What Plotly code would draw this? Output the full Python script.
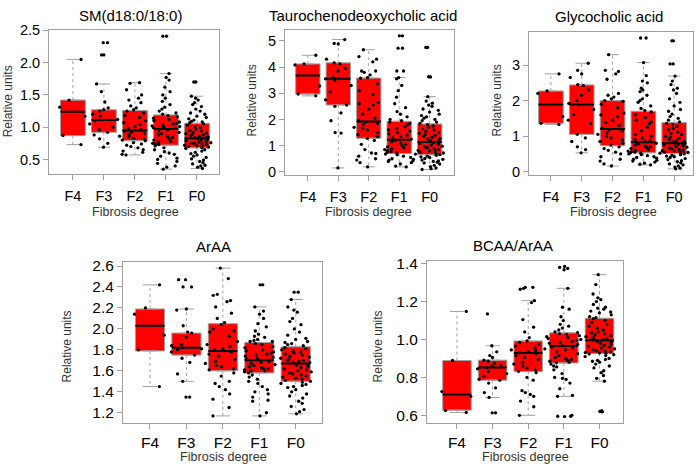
import plotly.graph_objects as go

categories = ['F4', 'F3', 'F2', 'F1', 'F0']
positions = [1, 2, 3, 4, 5]

# ---------------- SM(d18:0/18:0) ----------------
sm_lw = [0.73, 0.69, 0.57, 0.35, 0.36]
sm_q1 = [0.87, 0.92, 0.79, 0.72, 0.68]
sm_med = [1.24, 1.11, 0.95, 0.97, 0.83]
sm_q3 = [1.42, 1.27, 1.26, 1.19, 1.06]
sm_uw = [2.05, 1.67, 1.69, 1.83, 1.48]
sm_F4 = [2.05, 1.42, 1.31, 1.17, 0.87, 0.73]
sm_F3 = [2.31, 2.31, 2.12, 2.12, 1.67, 1.55, 1.39, 1.30, 1.27, 1.25, 1.20, 1.17, 1.12,
         1.10, 1.05, 1.00, 0.96, 0.92, 0.88, 0.82, 0.75, 0.69]
sm_F2 = [1.69, 1.68, 1.58, 1.50, 1.45, 1.42, 1.38, 1.33, 1.30, 1.27,
         1.25, 1.22, 1.18, 1.15, 1.10, 1.07, 1.04, 1.01, 0.98, 0.96,
         0.94, 0.92, 0.90, 0.88, 0.86, 0.85, 0.83, 0.82, 0.80, 0.79,
         0.76, 0.74, 0.72, 0.70, 0.68, 0.65, 0.63, 0.61, 0.58, 0.57]
sm_F1 = [2.41, 2.41,
         1.83, 1.77, 1.73, 1.62, 1.55, 1.50, 1.45, 1.40, 1.35, 1.31, 1.28, 1.25, 1.22, 1.20,
         1.18, 1.16, 1.14, 1.12, 1.10, 1.08, 1.06, 1.05, 1.03, 1.02, 1.01, 1.00, 0.99, 0.98,
         0.96, 0.94, 0.92, 0.90, 0.88, 0.86, 0.84, 0.82, 0.80, 0.78, 0.77, 0.75, 0.74, 0.73,
         0.71, 0.68, 0.65, 0.62, 0.60, 0.58, 0.55, 0.52, 0.50, 0.47, 0.44, 0.40, 0.38, 0.35]
sm_F0 = [1.70, 1.70,
         1.48, 1.45, 1.42, 1.38, 1.35, 1.32, 1.28, 1.25, 1.22, 1.20, 1.17, 1.15, 1.13, 1.11, 1.09, 1.08, 1.07,
         1.05, 1.03, 1.01, 0.99, 0.97, 0.95, 0.94, 0.92, 0.91, 0.90, 0.89, 0.88, 0.87, 0.86, 0.85, 0.84, 0.84,
         0.82, 0.81, 0.80, 0.79, 0.78, 0.77, 0.76, 0.75, 0.75, 0.74, 0.73, 0.72, 0.71, 0.70, 0.70, 0.69, 0.68,
         0.67, 0.65, 0.63, 0.61, 0.59, 0.57, 0.55, 0.53, 0.51, 0.49, 0.47, 0.45, 0.43, 0.41, 0.40, 0.38, 0.36]
sm_ticks = [0.5, 1.0, 1.5, 2.0, 2.5]

# ---------------- Taurochenodeoxycholic acid ----------------
tc_lw = [2.90, 0.15, 0.19, 0.19, 0.09]
tc_q1 = [2.97, 2.55, 1.28, 0.70, 0.65]
tc_med = [3.68, 3.55, 1.92, 1.23, 1.14]
tc_q3 = [4.12, 4.16, 3.58, 1.93, 1.83]
tc_uw = [4.45, 5.05, 4.66, 3.60, 2.87]
tc_F4 = [4.45, 4.12, 4.08, 3.28, 2.97, 2.90]
tc_F3 = [5.05, 4.90, 4.88, 4.30, 4.16, 4.12, 3.95, 3.85, 3.60, 3.55, 3.50, 3.30, 3.05,
         2.75, 2.55, 2.50, 2.25, 1.95, 1.50, 1.48, 0.15]
tc_F2 = [4.66, 4.40, 4.30, 4.20, 3.85, 3.85, 3.80, 3.70, 3.60, 3.58,
         3.35, 3.10, 2.95, 2.65, 2.60, 2.55, 2.40, 2.20, 2.05, 1.95,
         1.90, 1.85, 1.80, 1.70, 1.65, 1.60, 1.50, 1.42, 1.35, 1.28,
         1.20, 1.05, 0.85, 0.72, 0.70, 0.60, 0.50, 0.45, 0.35, 0.19]
tc_F1 = [5.19, 5.19, 4.72, 4.72, 3.85, 3.85,
         3.60, 3.55, 3.30, 3.10, 2.85, 2.60, 2.45, 2.30, 2.20, 2.10, 2.00, 1.95,
         1.90, 1.85, 1.80, 1.72, 1.65, 1.60, 1.55, 1.50, 1.45, 1.40, 1.35, 1.30, 1.25,
         1.20, 1.15, 1.10, 1.05, 1.00, 0.95, 0.92, 0.88, 0.85, 0.80, 0.77, 0.74, 0.71,
         0.68, 0.65, 0.60, 0.55, 0.50, 0.48, 0.45, 0.42, 0.40, 0.35, 0.30, 0.22, 0.19]
tc_F0 = [4.75, 4.75, 3.63, 3.62,
         2.87, 2.70, 2.62, 2.55, 2.50, 2.40, 2.35, 2.28, 2.20, 2.15, 2.10, 2.05, 2.00, 1.95, 1.90, 1.85,
         1.80, 1.75, 1.70, 1.65, 1.60, 1.55, 1.50, 1.47, 1.43, 1.40, 1.36, 1.32, 1.28, 1.25, 1.21, 1.18, 1.15,
         1.12, 1.08, 1.05, 1.02, 0.98, 0.95, 0.92, 0.88, 0.85, 0.82, 0.80, 0.77, 0.75, 0.72, 0.70, 0.68, 0.66,
         0.63, 0.60, 0.57, 0.54, 0.51, 0.48, 0.45, 0.42, 0.40, 0.37, 0.34, 0.30, 0.25, 0.20, 0.15, 0.12, 0.09]
tc_ticks = [0, 1, 2, 3, 4, 5]

# ---------------- Glycocholic acid ----------------
gc_lw = [1.33, 0.53, 0.16, 0.19, 0.08]
gc_q1 = [1.36, 1.05, 0.73, 0.53, 0.51]
gc_med = [1.89, 1.89, 1.20, 0.83, 0.80]
gc_q3 = [2.27, 2.44, 2.00, 1.70, 1.38]
gc_uw = [2.75, 3.05, 3.29, 3.07, 2.69]
gc_F4 = [2.75, 2.27, 2.20, 1.55, 1.36, 1.33]
gc_F3 = [3.05, 2.85, 2.75, 2.65, 2.45, 2.42, 2.30, 2.15, 2.00, 1.92, 1.89, 1.75, 1.60,
         1.45, 1.35, 1.05, 0.95, 0.85, 0.70, 0.62, 0.53]
gc_F2 = [3.29, 2.85, 2.82, 2.75, 2.60, 2.20, 2.15, 2.10, 2.05, 2.00,
         1.98, 1.90, 1.80, 1.65, 1.60, 1.55, 1.45, 1.38, 1.30, 1.22,
         1.18, 1.15, 1.10, 1.05, 1.00, 0.95, 0.90, 0.85, 0.80, 0.75,
         0.70, 0.65, 0.60, 0.55, 0.50, 0.42, 0.35, 0.30, 0.22, 0.16]
gc_F1 = [3.76, 3.76,
         3.07, 2.70, 2.55, 2.50, 2.35, 2.30, 2.25, 2.15, 2.05, 2.00, 1.95, 1.85, 1.78, 1.72,
         1.68, 1.60, 1.52, 1.45, 1.40, 1.35, 1.25, 1.15, 1.05, 1.00, 0.95, 0.90, 0.87, 0.85,
         0.82, 0.80, 0.78, 0.75, 0.72, 0.70, 0.68, 0.65, 0.62, 0.60, 0.58, 0.56, 0.55, 0.54,
         0.52, 0.50, 0.48, 0.45, 0.42, 0.40, 0.38, 0.35, 0.32, 0.30, 0.27, 0.24, 0.21, 0.19]
gc_F0 = [3.68, 3.68, 3.03, 3.03,
         2.69, 2.55, 2.45, 2.35, 2.30, 2.20, 2.05, 1.95, 1.85, 1.75, 1.70, 1.62, 1.55, 1.50, 1.45, 1.40,
         1.36, 1.32, 1.28, 1.22, 1.18, 1.12, 1.08, 1.04, 1.00, 0.97, 0.94, 0.91, 0.88, 0.86, 0.84, 0.82, 0.81,
         0.79, 0.77, 0.75, 0.73, 0.71, 0.69, 0.67, 0.65, 0.63, 0.61, 0.59, 0.58, 0.57, 0.55, 0.54, 0.53, 0.52,
         0.50, 0.48, 0.46, 0.44, 0.42, 0.40, 0.37, 0.34, 0.31, 0.28, 0.25, 0.22, 0.19, 0.16, 0.13, 0.10, 0.08]
gc_ticks = [0, 1, 2, 3]

# ---------------- ArAA ----------------
ar_lw = [1.45, 1.50, 1.17, 1.17, 1.19]
ar_q1 = [1.79, 1.75, 1.60, 1.58, 1.50]
ar_med = [2.03, 1.82, 1.79, 1.70, 1.67]
ar_q3 = [2.19, 1.96, 2.05, 1.87, 1.83]
ar_uw = [2.42, 2.19, 2.58, 2.21, 2.28]
ar_F4 = [2.42, 2.20, 2.14, 1.94, 1.80, 1.45]
ar_F3 = [2.47, 2.47, 2.40, 2.40, 2.19, 2.18, 2.03, 1.97, 1.96, 1.92, 1.85, 1.84, 1.82,
         1.81, 1.80, 1.78, 1.75, 1.72, 1.68, 1.57, 1.50, 1.35, 1.35]
ar_F2 = [2.58, 2.48, 2.33, 2.32, 2.27, 2.26, 2.21, 2.15, 2.10, 2.06,
         2.04, 2.00, 1.98, 1.97, 1.93, 1.88, 1.85, 1.83, 1.81, 1.80,
         1.78, 1.76, 1.74, 1.71, 1.69, 1.67, 1.65, 1.64, 1.62, 1.61,
         1.58, 1.55, 1.50, 1.48, 1.45, 1.42, 1.38, 1.33, 1.25, 1.17]
ar_F1 = [2.42, 2.42,
         2.21, 2.17, 2.14, 2.10, 2.05, 2.02, 1.98, 1.95, 1.93, 1.92, 1.90, 1.89, 1.88, 1.88,
         1.86, 1.85, 1.83, 1.82, 1.80, 1.79, 1.78, 1.77, 1.76, 1.75, 1.74, 1.73, 1.72, 1.71,
         1.69, 1.68, 1.67, 1.66, 1.65, 1.64, 1.63, 1.62, 1.62, 1.61, 1.60, 1.60, 1.59, 1.58,
         1.56, 1.54, 1.52, 1.50, 1.48, 1.45, 1.42, 1.40, 1.38, 1.35, 1.32, 1.31, 1.20, 1.17]
ar_F0 = [2.35, 2.35,
         2.28, 2.21, 2.18, 2.16, 2.10, 2.07, 2.04, 2.00, 1.97, 1.94, 1.91, 1.90, 1.88, 1.87, 1.86, 1.85, 1.84,
         1.82, 1.81, 1.80, 1.79, 1.78, 1.77, 1.76, 1.75, 1.74, 1.73, 1.72, 1.71, 1.70, 1.70, 1.69, 1.68, 1.68,
         1.66, 1.65, 1.64, 1.63, 1.62, 1.61, 1.60, 1.59, 1.58, 1.57, 1.56, 1.55, 1.54, 1.53, 1.52, 1.51, 1.50,
         1.49, 1.48, 1.47, 1.46, 1.45, 1.44, 1.42, 1.40, 1.38, 1.36, 1.34, 1.31, 1.29, 1.26, 1.23, 1.21, 1.19]
ar_ticks = [1.2, 1.4, 1.6, 1.8, 2.0, 2.2, 2.4, 2.6]

# ---------------- BCAA/ArAA ----------------
ba_lw = [0.615, 0.694, 0.600, 0.700, 0.780]
ba_q1 = [0.627, 0.785, 0.831, 0.876, 0.926]
ba_med = [0.710, 0.852, 0.929, 0.965, 0.996]
ba_q3 = [0.889, 0.891, 0.992, 1.035, 1.112]
ba_uw = [1.148, 0.967, 1.205, 1.270, 1.342]
ba_F4 = [1.148, 0.889, 0.725, 0.700, 0.625, 0.615]
ba_F3 = [1.135, 0.967, 0.935, 0.915, 0.905, 0.891, 0.885, 0.875, 0.865, 0.860, 0.852, 0.845,
         0.830, 0.820, 0.805, 0.790, 0.785, 0.770, 0.745, 0.720, 0.694, 0.613, 0.613]
ba_F2 = [1.275, 1.275, 1.270, 1.265, 1.205, 1.195, 1.105, 1.065, 1.040, 1.010,
         0.992, 0.985, 0.975, 0.965, 0.955, 0.950, 0.945, 0.940, 0.935, 0.930,
         0.925, 0.915, 0.905, 0.895, 0.880, 0.870, 0.860, 0.850, 0.840, 0.832,
         0.825, 0.800, 0.785, 0.730, 0.720, 0.710, 0.700, 0.675, 0.645, 0.600]
ba_F1 = [1.385, 1.380, 1.375, 1.368, 0.600, 0.595, 0.595, 0.593,
         1.270, 1.170, 1.160, 1.120, 1.100, 1.080, 1.070, 1.060, 1.050, 1.040, 1.036,
         1.030, 1.025, 1.020, 1.015, 1.010, 1.005, 1.000, 0.995, 0.990, 0.985, 0.980, 0.975, 0.968,
         0.960, 0.955, 0.945, 0.935, 0.925, 0.915, 0.905, 0.900, 0.895, 0.890, 0.885, 0.880, 0.877,
         0.870, 0.860, 0.855, 0.840, 0.820, 0.800, 0.795, 0.790, 0.770, 0.740, 0.705, 0.700]
ba_F0 = [0.624, 0.620, 0.618,
         1.342, 1.290, 1.240, 1.220, 1.210, 1.200, 1.185, 1.170, 1.165, 1.160, 1.150, 1.145, 1.140, 1.130, 1.120, 1.115,
         1.110, 1.100, 1.090, 1.080, 1.070, 1.060, 1.050, 1.040, 1.035, 1.030, 1.025, 1.020, 1.015, 1.010, 1.005, 1.000, 0.998,
         0.994, 0.990, 0.985, 0.980, 0.975, 0.970, 0.965, 0.960, 0.955, 0.950, 0.945, 0.940, 0.937, 0.934, 0.931, 0.929, 0.927,
         0.924, 0.920, 0.915, 0.910, 0.900, 0.895, 0.890, 0.885, 0.880, 0.870, 0.860, 0.850, 0.835, 0.825, 0.810, 0.795, 0.780]
ba_ticks = [0.6, 0.8, 1.0, 1.2, 1.4]

panel_titles = ['SM(d18:0/18:0)', 'Taurochenodeoxycholic acid', 'Glycocholic acid', 'ArAA', 'BCAA/ArAA']
x_title = 'Fibrosis degree'
y_title = 'Relative units'

panels = [
    dict(lw=sm_lw, q1=sm_q1, med=sm_med, q3=sm_q3, uw=sm_uw, pts=[sm_F4, sm_F3, sm_F2, sm_F1, sm_F0], ticks=sm_ticks, fmt='.1f'),
    dict(lw=tc_lw, q1=tc_q1, med=tc_med, q3=tc_q3, uw=tc_uw, pts=[tc_F4, tc_F3, tc_F2, tc_F1, tc_F0], ticks=tc_ticks, fmt='d'),
    dict(lw=gc_lw, q1=gc_q1, med=gc_med, q3=gc_q3, uw=gc_uw, pts=[gc_F4, gc_F3, gc_F2, gc_F1, gc_F0], ticks=gc_ticks, fmt='d'),
    dict(lw=ar_lw, q1=ar_q1, med=ar_med, q3=ar_q3, uw=ar_uw, pts=[ar_F4, ar_F3, ar_F2, ar_F1, ar_F0], ticks=ar_ticks, fmt='.1f'),
    dict(lw=ba_lw, q1=ba_q1, med=ba_med, q3=ba_q3, uw=ba_uw, pts=[ba_F4, ba_F3, ba_F2, ba_F1, ba_F0], ticks=ba_ticks, fmt='.1f'),
]

# ---------------- layout geometry (pixels in a 700x472 canvas) ----------------
W, H = 700, 472
frames = [(49, 219, 23, 171), (285, 454, 23, 172), (529, 693, 25, 172),
          (123, 322, 261, 427), (427, 623, 260, 427)]
xranges = [[0.23, 5.71], [0.25, 5.80], [0.29, 5.61], [0.26, 5.72], [0.16, 5.66]]
yranges = [[0.27, 2.50], [-0.13, 5.40], [-0.10, 3.92], [1.10, 2.64], [0.558, 1.415]]
tick_sizes = [14.5, 14.5, 14.5, 15.5, 15.5]
xlabel_standoff = [3, 3, 3, 0, 0]
title_pos = [(130, 8), (363, 8), (609, 9), (213, 245), (513, 244)]
xt_pos = [(135, 210), (368, 210), (613, 210), (223, 462), (525, 462)]
yt_pos = [(8, 96), (252, 95), (497, 95), (67, 348), (378, 348)]

FONT = 'Liberation Sans, Arial, sans-serif'
GRAY = '#a0a0a0'
BOXW = 0.8
CAPW = 0.4

fig = go.Figure()
shapes = []
annotations = []
layout = {}

for i, p in enumerate(panels):
    sfx = '' if i == 0 else str(i + 1)
    xa, ya = 'x' + sfx, 'y' + sfx

    # red boxes
    fig.add_trace(go.Box(
        x=positions, q1=p['q1'], median=p['med'], q3=p['q3'],
        lowerfence=p['q1'], upperfence=p['q3'], width=BOXW,
        fillcolor='#ff0000', line=dict(color=GRAY, width=1),
        boxpoints=False, hoverinfo='skip', showlegend=False, xaxis=xa, yaxis=ya))
    # black medians
    fig.add_trace(go.Box(
        x=positions, q1=p['med'], median=p['med'], q3=p['med'],
        lowerfence=p['med'], upperfence=p['med'], width=BOXW,
        fillcolor='rgba(0,0,0,0)', line=dict(color='black', width=2),
        boxpoints=False, hoverinfo='skip', showlegend=False, xaxis=xa, yaxis=ya))
    # jittered points
    xs, ys = [], []
    for pos, vals in zip(positions, p['pts']):
        xs += [pos] * len(vals)
        ys += vals
    fig.add_trace(go.Box(
        x=xs, y=ys, boxpoints='all', jitter=1.0, pointpos=0, width=1.0,
        fillcolor='rgba(0,0,0,0)', line=dict(color='rgba(0,0,0,0)', width=0),
        marker=dict(color='black', size=3.3, line=dict(width=0)),
        hoverinfo='skip', showlegend=False, xaxis=xa, yaxis=ya))

    # whiskers and caps
    for k, pos in enumerate(positions):
        for a, b in ((p['q3'][k], p['uw'][k]), (p['q1'][k], p['lw'][k])):
            if a != b:
                shapes.append(dict(type='line', xref=xa, yref=ya, x0=pos, x1=pos, y0=a, y1=b,
                                   line=dict(color=GRAY, width=1, dash='dot'), layer='below'))
            shapes.append(dict(type='line', xref=xa, yref=ya, x0=pos - CAPW / 2, x1=pos + CAPW / 2,
                               y0=b, y1=b, line=dict(color=GRAY, width=1), layer='below'))

    x0, x1, y0, y1 = frames[i]
    axis_common = dict(showline=True, mirror=True, linecolor=GRAY, linewidth=1,
                       ticks='outside', ticklen=5, tickcolor=GRAY, showgrid=False, zeroline=False,
                       tickfont=dict(family=FONT, size=tick_sizes[i], color='black'))
    layout['xaxis' + sfx] = dict(axis_common, domain=[x0 / W, x1 / W], range=xranges[i],
                                 tickvals=positions, ticktext=categories, anchor=ya,
                                 ticklabelstandoff=xlabel_standoff[i])
    layout['yaxis' + sfx] = dict(axis_common, domain=[1 - y1 / H, 1 - y0 / H], range=yranges[i],
                                 tickvals=p['ticks'], tickformat=p['fmt'], anchor=xa)

    tx, ty = title_pos[i]
    annotations.append(dict(text=panel_titles[i], x=tx / W, y=1 - ty / H, xref='paper', yref='paper',
                            xanchor='center', yanchor='middle', showarrow=False,
                            font=dict(family=FONT, size=15, color='black')))
    tx, ty = xt_pos[i]
    annotations.append(dict(text=x_title, x=tx / W, y=1 - ty / H, xref='paper', yref='paper',
                            xanchor='center', yanchor='middle', showarrow=False,
                            font=dict(family=FONT, size=12.6, color='#333333')))
    tx, ty = yt_pos[i]
    annotations.append(dict(text=y_title, x=tx / W, y=1 - ty / H, xref='paper', yref='paper',
                            xanchor='center', yanchor='middle', showarrow=False, textangle=-90,
                            font=dict(family=FONT, size=12, color='#333333')))

fig.update_layout(
    width=W, height=H, margin=dict(l=0, r=0, t=0, b=0),
    paper_bgcolor='white', plot_bgcolor='white', boxmode='overlay',
    shapes=shapes, annotations=annotations, showlegend=False, **layout)

fig.write_html('out.html', config={'displayModeBar': False},
               post_script="document.body.style.margin='0px';document.body.style.overflow='hidden';")
